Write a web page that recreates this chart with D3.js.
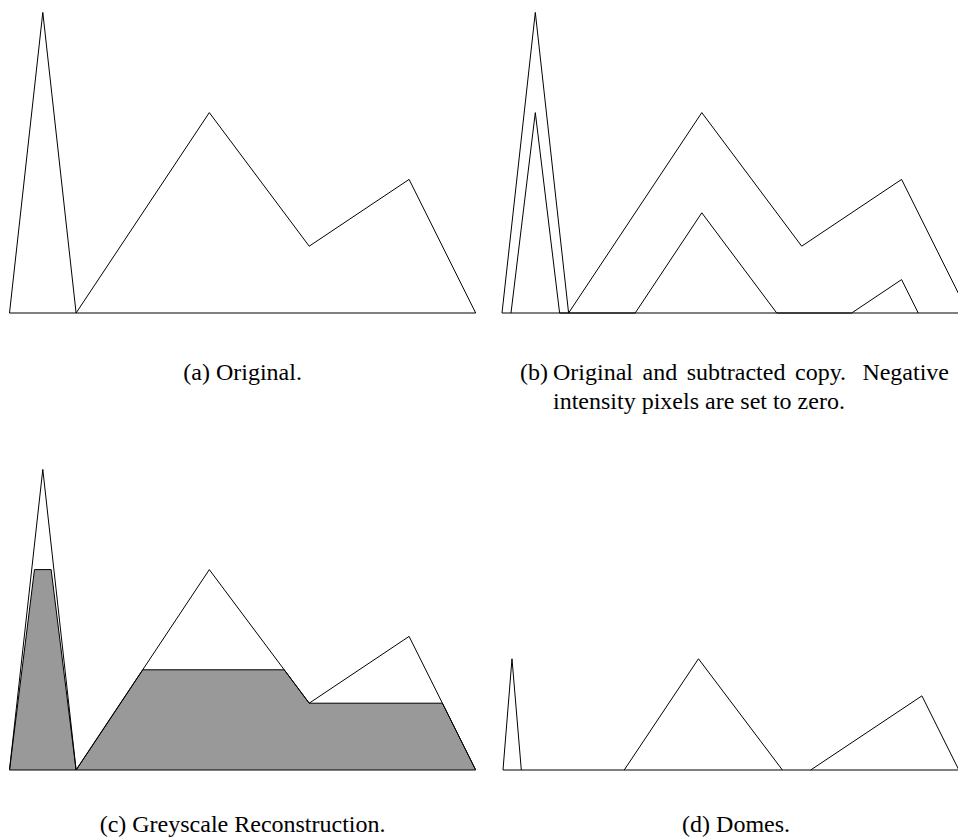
<!DOCTYPE html>
<html lang="en">
<head>
    <meta charset="UTF-8">
    <title>Greyscale reconstruction - domes</title>
    <script src="https://d3js.org/d3.v7.min.js"></script>
    <style>
        body { margin: 0; background: #fff; }
        text { font-family: "Liberation Serif", "Times New Roman", Times, serif; font-size: 24px; fill: #000; }
    </style>
</head>
<body>
    <div id="my_dataviz"></div>

    <script>
        // original 1D signal (x in grid units, y = intensity)
        const origX = [0, 1, 2, 6, 9, 12, 14];
        const origY = [0, 9, 0, 6, 2, 4, 0];

        // copy with h subtracted, negative values set to zero
        const subX = [0.27, 1, 1.73, 4, 6, 8.25, 10.5, 12, 12.5];
        const subY = [0, 6, 0, 0, 3, 0, 0, 1, 0];

        // greyscale reconstruction (filled)
        const recX = [0, 0.75, 1.25, 2, 4, 8.25, 9, 13, 14];
        const recY = [0, 6, 6, 0, 3, 3, 2, 2, 0];

        // domes = original - reconstruction
        const domeX = [0, 0.27, 0.55, 3.64, 5.87, 8.39, 9.24, 12.58, 13.69];
        const domeY = [0, 3.33, 0, 0, 3.33, 0, 0, 2.22, 0];

        const captionA = "(a) Original.";
        const captionB1 = ["Original", "and", "subtracted", "copy.", "Negative"];
        const captionB2 = "intensity pixels are set to zero.";
        const captionC = "(c) Greyscale Reconstruction.";
        const captionD = "(d) Domes.";

        const W = 958, H = 838;
        const svg = d3.select("#my_dataviz")
            .append("svg")
            .attr("width", W)
            .attr("height", H);

        // panel placement: left edge of x=0 and baseline of y=0
        const panels = [
            { x0: 9.5, base: 313 },
            { x0: 502, base: 313 },
            { x0: 9.5, base: 770 },
            { x0: 503, base: 770 }
        ];
        const unitW = 33.3, unitH = 33.4;

        function scales(p) {
            const x = d3.scaleLinear().domain([0, 14]).range([p.x0, p.x0 + 14 * unitW]);
            const y = d3.scaleLinear().domain([0, 9]).range([p.base, p.base - 9 * unitH]);
            return { x, y };
        }

        function drawLine(g, s, xs, ys, fill) {
            const line = d3.line().x(d => s.x(d[0])).y(d => s.y(d[1]));
            return g.append("path")
                .datum(d3.zip(xs, ys))
                .attr("d", line)
                .attr("fill", fill || "none")
                .attr("stroke", "#000")
                .attr("stroke-width", 1);
        }

        function baseline(g, s) {
            g.append("line")
                .attr("x1", s.x(0)).attr("x2", s.x(14))
                .attr("y1", s.y(0)).attr("y2", s.y(0))
                .attr("stroke", "#000")
                .attr("stroke-width", 1);
        }

        // (a) original
        let s = scales(panels[0]);
        let g = svg.append("g");
        baseline(g, s);
        drawLine(g, s, origX, origY);

        // (b) original and subtracted copy
        s = scales(panels[1]);
        g = svg.append("g");
        baseline(g, s);
        drawLine(g, s, origX, origY);
        drawLine(g, s, subX, subY);

        // (c) reconstruction, grey area under the original outline
        s = scales(panels[2]);
        g = svg.append("g");
        drawLine(g, s, recX, recY, "#999999").attr("stroke-linejoin", "round");
        baseline(g, s);
        drawLine(g, s, origX, origY);

        // (d) domes - skip the flat pieces lying on the baseline
        s = scales(panels[3]);
        g = svg.append("g");
        baseline(g, s);
        const domePts = d3.zip(domeX, domeY);
        const segs = d3.pairs(domePts).filter(p => p[0][1] !== 0 || p[1][1] !== 0);
        g.selectAll("line.dome")
            .data(segs)
            .enter()
            .append("line")
            .attr("class", "dome")
            .attr("x1", d => s.x(d[0][0])).attr("y1", d => s.y(d[0][1]))
            .attr("x2", d => s.x(d[1][0])).attr("y2", d => s.y(d[1][1]))
            .attr("stroke", "#000")
            .attr("stroke-width", 1);

        // captions
        function centreOf(p) { return p.x0 + 7 * unitW; }

        svg.append("text")
            .attr("x", centreOf(panels[0])).attr("y", 380)
            .attr("text-anchor", "middle")
            .text(captionA);

        svg.append("text")
            .attr("x", centreOf(panels[2])).attr("y", 832)
            .attr("text-anchor", "middle")
            .text(captionC);

        svg.append("text")
            .attr("x", centreOf(panels[3])).attr("y", 832)
            .attr("text-anchor", "middle")
            .text(captionD);

        // (b) caption: hanging label, justified first line
        const bLeft = 553, bRight = 949;
        svg.append("text").attr("x", 520).attr("y", 380).text("(b)");

        const words = svg.append("g").selectAll("text")
            .data(captionB1)
            .enter()
            .append("text")
            .attr("y", 380)
            .text(d => d);
        const widths = [];
        words.each(function () { widths.push(this.getComputedTextLength()); });
        // space after a full stop is wider
        const weights = captionB1.slice(0, -1).map(w => w.endsWith(".") ? 1.7 : 1);
        const gapUnit = (bRight - bLeft - d3.sum(widths)) / d3.sum(weights);
        let cx = bLeft;
        words.attr("x", (d, i) => {
            const pos = cx;
            cx += widths[i] + (i < weights.length ? weights[i] * gapUnit : 0);
            return pos;
        });

        svg.append("text").attr("x", bLeft).attr("y", 409).text(captionB2);
    </script>
</body>
</html>
